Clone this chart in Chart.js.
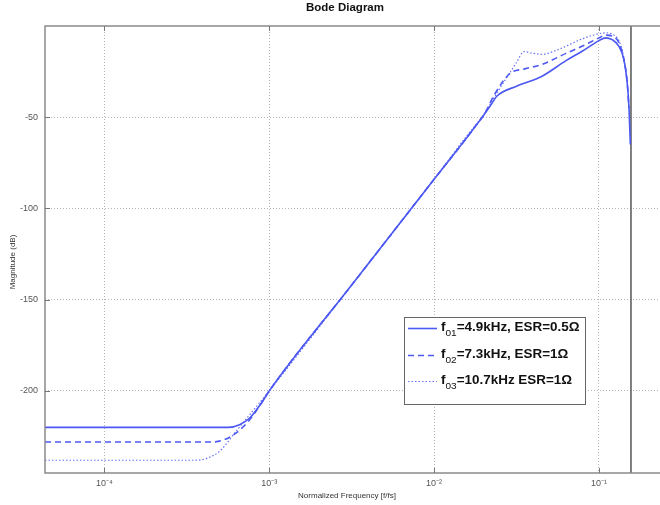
<!DOCTYPE html>
<html>
<head>
<meta charset="utf-8">
<script src="https://cdn.jsdelivr.net/npm/chart.js@4"></script>
<style>
html,body{margin:0;padding:0;background:#fff;}
#wrap{width:660px;height:505px;position:relative;}
</style>
</head>
<body>
<div id="wrap"><canvas id="c"></canvas></div>
<script>
// ---- data (x as log10 of normalized frequency, y in dB) ----
const logF01 = [-4.36,-3.5,-3.25,-3.18,-3.12,-3.05,-3.0,-2.5,-2.0,-1.8,-1.75,-1.7,-1.65,-1.62,-1.5,-1.345,-1.2,-1.1,-1.0,-0.96,-0.92,-0.88,-0.85,-0.83,-0.818,-0.81];
const mag01  = [-220,-220,-220,-218.5,-215,-207,-200,-142,-84,-61,-55,-49,-42.5,-38.5,-33,-27.5,-19,-13.7,-8,-6.5,-7.5,-11,-18,-30,-45,-65];

const logF02 = [-4.36,-3.35,-3.28,-3.2,-3.12,-3.05,-3.0,-2.5,-2.0,-1.8,-1.75,-1.7,-1.63,-1.54,-1.45,-1.345,-1.2,-1.1,-1.0,-0.96,-0.92,-0.88,-0.85,-0.83,-0.818];
const mag02  = [-228,-228,-227,-223,-216,-207,-200,-142,-84,-61,-55,-49,-37,-26,-23.5,-21,-15,-11,-6.5,-5,-5.5,-9,-18,-30,-45];

const logF03 = [-4.36,-3.45,-3.38,-3.3,-3.2,-3.1,-3.0,-2.5,-2.0,-1.8,-1.75,-1.7,-1.6,-1.5,-1.455,-1.4,-1.345,-1.25,-1.1,-1.0,-0.96,-0.92,-0.88,-0.85,-0.83];
const mag03  = [-238,-238,-237,-233,-222,-211,-200,-142,-84,-60,-54.5,-48.5,-34,-20,-14,-15,-15.5,-13,-7,-4.2,-3.8,-4.5,-8,-17,-30];

const nyquistLog = -0.806;
const yRange = [-245, 0];
const xRangeLog = [-4.36, -0.63];

const xTickValues = [1e-4, 1e-3, 1e-2, 1e-1];
const xTickLabels = ['10\u207B\u2074', '10\u207B\u00B3', '10\u207B\u00B2', '10\u207B\u00B9'];
const yTickValues = [-200, -150, -100, -50];

const seriesLabels = [
  ['f', '01', '=4.9kHz, ESR=0.5\u03A9'],
  ['f', '02', '=7.3kHz, ESR=1\u03A9'],
  ['f', '03', '=10.7kHz ESR=1\u03A9']
];

const BLUE = 'rgb(76,88,242)';
const pts = (lx, ly) => lx.map((v, i) => ({x: Math.pow(10, v), y: ly[i]}));

const styles = [
  {borderWidth: 1.6, borderDash: []},
  {borderWidth: 1.6, borderDash: [6, 4]},
  {borderWidth: 1.2, borderDash: [1.5, 2]}
];

const datasets = [
  {data: pts(logF01, mag01), borderColor: BLUE, ...styles[0]},
  {data: pts(logF02, mag02), borderColor: BLUE, ...styles[1]},
  {data: pts(logF03, mag03), borderColor: 'rgb(104,114,246)', ...styles[2]},
  {data: [{x: Math.pow(10, nyquistLog), y: yRange[0]}, {x: Math.pow(10, nyquistLog), y: yRange[1]}],
   borderColor: '#555', borderWidth: 1.5, borderDash: []}
].map(d => Object.assign({pointRadius: 0, fill: false, cubicInterpolationMode: 'monotone'}, d));

const FONT = '"Liberation Sans", Arial, sans-serif';

const framePlugin = {
  id: 'frame',
  afterDraw(chart) {
    const ctx = chart.ctx, a = chart.chartArea;
    const xs = chart.scales.x, ys = chart.scales.y;
    ctx.save();
    // frame
    ctx.strokeStyle = '#8a8a8a';
    ctx.lineWidth = 1.5;
    ctx.setLineDash([]);
    ctx.beginPath();
    ctx.moveTo(a.right + 2, a.top); ctx.lineTo(a.left, a.top);
    ctx.lineTo(a.left, a.bottom); ctx.lineTo(a.right + 2, a.bottom);
    ctx.stroke();
    // tick marks
    ctx.strokeStyle = '#777';
    ctx.lineWidth = 1;
    ctx.beginPath();
    xTickValues.forEach(v => {
      const px = Math.round(xs.getPixelForValue(v)) + 0.5;
      ctx.moveTo(px, a.top); ctx.lineTo(px, a.top + 5);
      ctx.moveTo(px, a.bottom); ctx.lineTo(px, a.bottom - 5);
    });
    yTickValues.forEach(v => {
      const py = Math.round(ys.getPixelForValue(v)) + 0.5;
      ctx.moveTo(a.left, py); ctx.lineTo(a.left + 5, py);
    });
    ctx.stroke();
    // title
    ctx.fillStyle = '#111';
    ctx.font = 'bold 11.5px ' + FONT;
    ctx.textAlign = 'center'; ctx.textBaseline = 'middle';
    ctx.fillText('Bode Diagram', 345, 8);
    // axis titles
    ctx.fillStyle = '#333';
    ctx.font = '8px ' + FONT;
    ctx.fillText('Normalized Frequency [f/fs]', 347, 496);
    ctx.save();
    ctx.translate(13, 262); ctx.rotate(-Math.PI / 2);
    ctx.fillText('Magnitude (dB)', 0, 0);
    ctx.restore();
    // legend
    const L = {x: 404, y: 317, w: 181, h: 87};
    ctx.fillStyle = '#fff';
    ctx.fillRect(L.x, L.y, L.w, L.h);
    ctx.strokeStyle = '#666'; ctx.lineWidth = 1;
    ctx.strokeRect(L.x + 0.5, L.y + 0.5, L.w, L.h);
    const rows = [328, 355, 381];
    rows.forEach((ry, i) => {
      const ds = datasets[i];
      ctx.strokeStyle = ds.borderColor;
      ctx.lineWidth = ds.borderWidth;
      ctx.setLineDash(ds.borderDash);
      ctx.beginPath(); ctx.moveTo(408, ry + 0.5); ctx.lineTo(437, ry + 0.5); ctx.stroke();
      ctx.setLineDash([]);
      const [f, sub, rest] = seriesLabels[i];
      ctx.save();
      ctx.translate(441, 0);
      ctx.scale(1.12, 1);
      ctx.fillStyle = '#111';
      ctx.textAlign = 'left'; ctx.textBaseline = 'alphabetic';
      ctx.font = 'bold 12px ' + FONT;
      let x = 0;
      ctx.fillText(f, x, ry + 3); x += ctx.measureText(f).width;
      ctx.font = '9px ' + FONT;
      ctx.fillText(sub, x, ry + 8); x += ctx.measureText(sub).width;
      ctx.font = 'bold 12px ' + FONT;
      ctx.fillText(rest, x, ry + 3);
      ctx.restore();
    });
    ctx.restore();
  }
};

new Chart(document.getElementById('c'), {
  type: 'line',
  data: {datasets},
  plugins: [framePlugin],
  options: {
    responsive: true,
    maintainAspectRatio: false,
    animation: false,
    layout: {padding: {top: 26, right: 0, left: 0, bottom: 0}},
    plugins: {legend: {display: false}, tooltip: {enabled: false}, title: {display: false}},
    scales: {
      x: {
        type: 'logarithmic',
        min: Math.pow(10, xRangeLog[0]),
        max: Math.pow(10, xRangeLog[1]),
        afterBuildTicks: s => { s.ticks = xTickValues.map(v => ({value: v})); },
        afterFit: s => { s.height = 32; },
        ticks: {
          callback: (v) => { const i = xTickValues.findIndex(t => Math.abs(t - v) / t < 1e-6); return i >= 0 ? xTickLabels[i] : ''; },
          font: {size: 9, family: FONT},
          color: '#555', padding: 5, maxRotation: 0, autoSkip: false
        },
        grid: {color: '#b5b5b5', lineWidth: 1, drawTicks: false},
        border: {display: false, dash: [1, 2]}
      },
      y: {
        type: 'linear',
        min: yRange[0], max: yRange[1],
        afterBuildTicks: s => { s.ticks = yTickValues.map(v => ({value: v})); },
        afterFit: s => { s.width = 45; },
        ticks: {
          font: {size: 9, family: FONT},
          color: '#555', padding: 7
        },
        grid: {color: '#b5b5b5', lineWidth: 1, drawTicks: false},
        border: {display: false, dash: [1, 2]}
      }
    }
  }
});
</script>
</body>
</html>
